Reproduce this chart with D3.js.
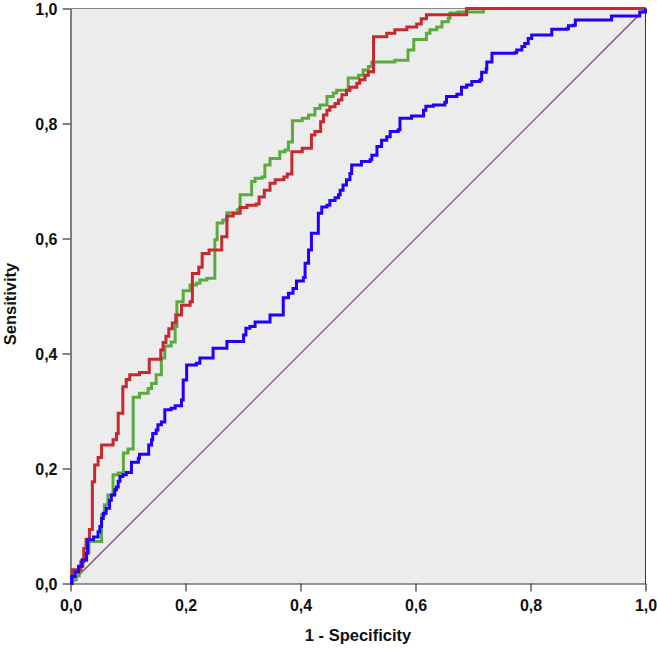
<!DOCTYPE html>
<html>
<head>
<meta charset="utf-8">
<script src="https://cdnjs.cloudflare.com/ajax/libs/d3/7.8.5/d3.min.js"></script>
<style>
  body { margin: 0; background: #fff; }
  text { font-family: "Liberation Sans", Arial, sans-serif; }
</style>
</head>
<body>
<script>
// ROC curves, [1 - specificity, sensitivity] at each vertical step
const redCurve = [
  [0, 0], [0.003, 0.024], [0.018, 0.038], [0.023, 0.061], [0.027, 0.077], [0.033, 0.094],
  [0.038, 0.177], [0.042, 0.206], [0.048, 0.219], [0.054, 0.241], [0.074, 0.250], [0.080, 0.261],
  [0.083, 0.296], [0.091, 0.342], [0.097, 0.355], [0.103, 0.363], [0.120, 0.367], [0.137, 0.390],
  [0.157, 0.406], [0.161, 0.419], [0.166, 0.430], [0.171, 0.443], [0.177, 0.453], [0.183, 0.467],
  [0.193, 0.484], [0.208, 0.490], [0.212, 0.539], [0.223, 0.550], [0.229, 0.574], [0.241, 0.580],
  [0.263, 0.603], [0.272, 0.639], [0.283, 0.644], [0.295, 0.654], [0.307, 0.658], [0.323, 0.660],
  [0.328, 0.672], [0.337, 0.684], [0.347, 0.696], [0.356, 0.702], [0.371, 0.707], [0.377, 0.712],
  [0.385, 0.751], [0.403, 0.757], [0.419, 0.780], [0.425, 0.786], [0.435, 0.803], [0.440, 0.815],
  [0.446, 0.823], [0.451, 0.829], [0.460, 0.835], [0.466, 0.841], [0.472, 0.850], [0.480, 0.858],
  [0.486, 0.863], [0.498, 0.870], [0.503, 0.876], [0.512, 0.884], [0.518, 0.890], [0.527, 0.951],
  [0.550, 0.957], [0.564, 0.963], [0.585, 0.968], [0.602, 0.973], [0.610, 0.982], [0.619, 0.989],
  [0.689, 1.0], [1, 1]
];

const greenCurve = [
  [0, 0], [0.004, 0.006], [0.010, 0.013], [0.015, 0.020], [0.018, 0.030], [0.022, 0.041],
  [0.027, 0.053], [0.032, 0.073], [0.054, 0.119], [0.059, 0.137], [0.065, 0.154], [0.074, 0.189],
  [0.083, 0.192], [0.092, 0.227], [0.100, 0.234], [0.109, 0.324], [0.120, 0.331], [0.135, 0.339],
  [0.141, 0.348], [0.149, 0.363], [0.158, 0.392], [0.164, 0.413], [0.175, 0.420], [0.182, 0.447],
  [0.185, 0.490], [0.196, 0.509], [0.208, 0.519], [0.219, 0.522], [0.225, 0.528], [0.237, 0.531],
  [0.251, 0.598], [0.255, 0.627], [0.265, 0.632], [0.272, 0.645], [0.290, 0.650], [0.295, 0.676],
  [0.315, 0.699], [0.321, 0.705], [0.333, 0.707], [0.338, 0.728], [0.347, 0.739], [0.364, 0.751],
  [0.373, 0.754], [0.379, 0.768], [0.386, 0.805], [0.403, 0.809], [0.414, 0.815], [0.425, 0.826],
  [0.434, 0.832], [0.446, 0.847], [0.457, 0.853], [0.463, 0.858], [0.483, 0.879], [0.501, 0.884],
  [0.509, 0.893], [0.518, 0.899], [0.524, 0.907], [0.564, 0.910], [0.587, 0.928], [0.597, 0.946],
  [0.619, 0.957], [0.625, 0.963], [0.637, 0.968], [0.646, 0.977], [0.657, 0.983], [0.660, 0.992],
  [0.674, 0.994], [0.718, 1.0], [1, 1]
];

const blueCurve = [
  [0, 0], [0.002, 0.012], [0.008, 0.020], [0.014, 0.030], [0.020, 0.041], [0.028, 0.053],
  [0.030, 0.076], [0.040, 0.081], [0.048, 0.090], [0.051, 0.099], [0.054, 0.113], [0.057, 0.122],
  [0.062, 0.131], [0.068, 0.145], [0.071, 0.154], [0.077, 0.163], [0.080, 0.168], [0.083, 0.178],
  [0.086, 0.186], [0.091, 0.189], [0.097, 0.193], [0.106, 0.211], [0.118, 0.218], [0.120, 0.225],
  [0.136, 0.241], [0.141, 0.250], [0.143, 0.261], [0.149, 0.267], [0.152, 0.276], [0.158, 0.281],
  [0.164, 0.302], [0.175, 0.305], [0.182, 0.309], [0.193, 0.319], [0.196, 0.354], [0.202, 0.380],
  [0.219, 0.383], [0.225, 0.392], [0.248, 0.409], [0.272, 0.421], [0.301, 0.432], [0.305, 0.444],
  [0.312, 0.447], [0.321, 0.455], [0.347, 0.467], [0.370, 0.497], [0.379, 0.505], [0.387, 0.513],
  [0.393, 0.526], [0.405, 0.532], [0.408, 0.557], [0.414, 0.580], [0.419, 0.609], [0.431, 0.644],
  [0.437, 0.655], [0.446, 0.658], [0.451, 0.666], [0.460, 0.671], [0.466, 0.676], [0.469, 0.684],
  [0.474, 0.693], [0.480, 0.702], [0.486, 0.713], [0.489, 0.728], [0.506, 0.734], [0.521, 0.737],
  [0.524, 0.745], [0.533, 0.760], [0.541, 0.771], [0.550, 0.777], [0.556, 0.786], [0.570, 0.789],
  [0.573, 0.809], [0.593, 0.813], [0.614, 0.823], [0.618, 0.830], [0.631, 0.832], [0.651, 0.837],
  [0.654, 0.847], [0.672, 0.851], [0.680, 0.863], [0.689, 0.867], [0.698, 0.873], [0.712, 0.876],
  [0.715, 0.889], [0.723, 0.895], [0.724, 0.907], [0.733, 0.922], [0.773, 0.923], [0.776, 0.928],
  [0.785, 0.934], [0.790, 0.939], [0.796, 0.948], [0.802, 0.954], [0.837, 0.964], [0.863, 0.965],
  [0.866, 0.970], [0.874, 0.971], [0.878, 0.980], [0.941, 0.987], [0.990, 0.994], [1, 1]
];

// Reference line
const diagonal = [[0, 0], [1, 1]];

const tickValues = [0, 0.2, 0.4, 0.6, 0.8, 1.0];

// Canvas
const width = 657;
const height = 651;
const margin = { top: 8.5, right: 11.5, bottom: 67.5, left: 70.5 };
const innerW = width - margin.left - margin.right;
const innerH = height - margin.top - margin.bottom;

const svg = d3.select("body")
  .append("svg")
  .attr("width", width)
  .attr("height", height);

const x = d3.scaleLinear().domain([0, 1]).range([margin.left, margin.left + innerW]);
const y = d3.scaleLinear().domain([0, 1]).range([margin.top + innerH, margin.top]);

// Plot background
svg.append("rect")
  .attr("x", x(0))
  .attr("y", y(1))
  .attr("width", innerW)
  .attr("height", innerH)
  .attr("fill", "#ececec");

// Top and right frame
svg.append("line")
  .attr("x1", x(0)).attr("x2", x(1))
  .attr("y1", y(1)).attr("y2", y(1))
  .attr("stroke", "#8a8a8a");
svg.append("line")
  .attr("x1", x(1)).attr("x2", x(1))
  .attr("y1", y(0)).attr("y2", y(1))
  .attr("stroke", "#333");

const comma = d => d3.format(".1f")(d).replace(".", ",");

// Axes
const xAxis = svg.append("g")
  .attr("transform", `translate(0,${y(0)})`)
  .call(d3.axisBottom(x).tickValues(tickValues).tickFormat(comma).tickSize(8).tickSizeOuter(0));

const yAxis = svg.append("g")
  .attr("transform", `translate(${x(0)},0)`)
  .call(d3.axisLeft(y).tickValues(tickValues).tickFormat(comma).tickSize(8).tickSizeOuter(0));

[xAxis, yAxis].forEach(g => {
  g.attr("font-size", null).attr("font-family", null);
  g.select(".domain").attr("stroke", "#333").attr("stroke-width", 1.2);
  g.selectAll(".tick line").attr("stroke", "#333").attr("stroke-width", 1.2);
  g.selectAll(".tick text")
    .attr("fill", "#111")
    .style("font-size", "16px")
    .style("font-weight", "bold");
});
xAxis.selectAll(".tick text").attr("y", 12).attr("dy", "0.95em");
yAxis.selectAll(".tick text").attr("x", -13).attr("dy", "0.36em");

// Curves
const line = d3.line().x(d => x(d[0])).y(d => y(d[1]));
const stepLine = d3.line().x(d => x(d[0])).y(d => y(d[1])).curve(d3.curveStepAfter);

svg.append("path")
  .datum(diagonal)
  .attr("d", line)
  .attr("fill", "none")
  .attr("stroke", "#7b2d8e")
  .attr("stroke-width", 1.1);

const curves = [
  { data: greenCurve, color: "#5aab3e" },
  { data: redCurve, color: "#c8292f" },
  { data: blueCurve, color: "#1f00ff" }
];

svg.append("g")
  .selectAll("path")
  .data(curves)
  .join("path")
  .attr("d", d => stepLine(d.data))
  .attr("fill", "none")
  .attr("stroke", d => d.color)
  .attr("stroke-width", 3)
  .attr("stroke-linejoin", "miter");

// Axis titles
svg.append("text")
  .attr("x", x(0.5))
  .attr("y", 641)
  .attr("text-anchor", "middle")
  .style("font-size", "16.5px")
  .style("font-weight", "bold")
  .attr("fill", "#111")
  .text("1 - Specificity");

svg.append("text")
  .attr("transform", `translate(16,${y(0.5) + 8}) rotate(-90)`)
  .attr("text-anchor", "middle")
  .style("font-size", "16.5px")
  .style("font-weight", "bold")
  .attr("fill", "#111")
  .text("Sensitivity");
</script>
</body>
</html>
